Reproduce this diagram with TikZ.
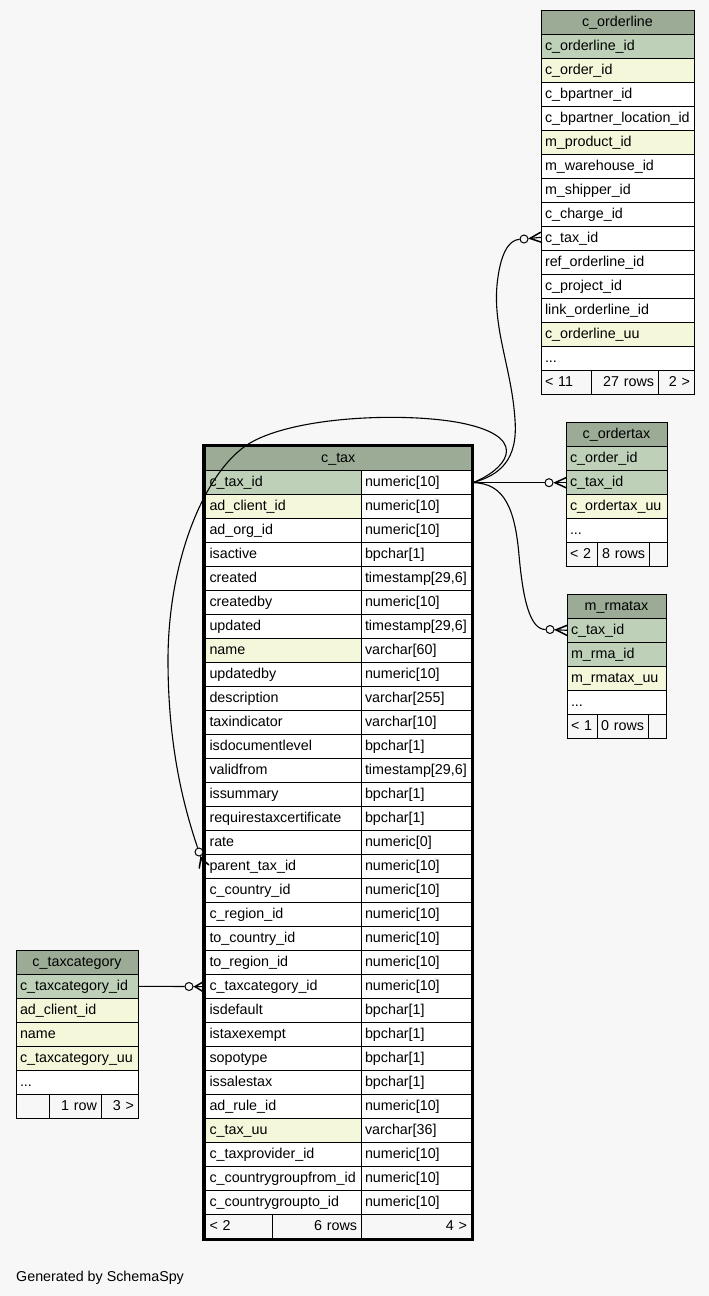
\documentclass[tikz,border=0pt]{standalone}
\usepackage{fontspec}
\setmainfont{Liberation Sans}
\usetikzlibrary{calc}
\definecolor{bgc}{HTML}{F7F7F7}
\definecolor{hdrc}{HTML}{9BAB96}
\definecolor{pkc}{HTML}{BED1B8}
\definecolor{idxc}{HTML}{F4F7DA}
\newcommand\tabfont{\fontsize{14.3}{16}\selectfont}
\newcommand\tdots{...}
\newcommand\tcell[7]{\node[cellbox,fill=#5,minimum width=#4pt,text width=#4pt-8pt,#6] (#1) at (#2,#3) {#7};}
\newcommand\crowlink[2]{%
  \draw[link] (#1) -- (#2);
  \draw[crowline] ($(#1)!6pt!(#2)$) -- ($(#2)!5pt!90:(#1)$);
  \draw[crowline] ($(#1)!6pt!(#2)$) -- ($(#2)!5pt!-90:(#1)$);}
\begin{document}
\begin{tikzpicture}[x=1pt,y=-1pt,
  cellbox/.style={draw=black, line width=1pt, anchor=north west, minimum height=24pt,
    inner xsep=4pt, inner ysep=0pt, outer sep=0pt, text height=10pt, text depth=2.5pt,
    font=\tabfont, align=left},
  odot/.style={circle, draw=black, line width=1pt, fill=bgc, minimum size=8pt, inner sep=0pt},
  link/.style={line width=1.1pt, black},
  crowline/.style={line width=1.5pt, black, line cap=round}]
\fill[bgc] (0,0) rectangle (709,1296);
\useasboundingbox (0,0) rectangle (709,1296);

% ---------- c_orderline ----------
\tcell{olh}{541}{10.3}{153}{hdrc}{align=center}{c\_orderline}
\foreach \fa/\fc [count=\k from 0] in {c\_orderline\_id/pkc, c\_order\_id/idxc, c\_bpartner\_id/white,
  c\_bpartner\_location\_id/white, m\_product\_id/idxc, m\_warehouse\_id/white, m\_shipper\_id/white,
  c\_charge\_id/white, c\_tax\_id/white, ref\_orderline\_id/white, c\_project\_id/white,
  link\_orderline\_id/white, c\_orderline\_uu/idxc, \tdots/white}{
  \pgfmathsetmacro\yy{34.3+24*\k}
  \tcell{ol\k}{541}{\yy}{153}{\fc}{}{\fa}
}
\tcell{olf1}{541}{370.3}{50}{bgc}{}{< 11}
\tcell{olf2}{591}{370.3}{67}{bgc}{align=right}{27 rows}
\tcell{olf3}{658}{370.3}{36}{bgc}{align=right}{2 >}

% ---------- c_ordertax ----------
\tcell{oth}{566}{422.7}{101}{hdrc}{align=center}{c\_ordertax}
\foreach \fa/\fc [count=\k from 0] in {c\_order\_id/pkc, c\_tax\_id/pkc, c\_ordertax\_uu/idxc, \tdots/white}{
  \pgfmathsetmacro\yy{446.7+24*\k}
  \tcell{ot\k}{566}{\yy}{101}{\fc}{}{\fa}
}
\tcell{otf1}{566}{542.7}{31}{bgc}{}{< 2}
\tcell{otf2}{597}{542.7}{52}{bgc}{align=right}{8 rows}
\tcell{otf3}{649}{542.7}{18}{bgc}{}{}

% ---------- m_rmatax ----------
\tcell{rmh}{567}{594.3}{99}{hdrc}{align=center}{m\_rmatax}
\foreach \fa/\fc [count=\k from 0] in {c\_tax\_id/pkc, m\_rma\_id/pkc, m\_rmatax\_uu/idxc, \tdots/white}{
  \pgfmathsetmacro\yy{618.3+24*\k}
  \tcell{rm\k}{567}{\yy}{99}{\fc}{}{\fa}
}
\tcell{rmf1}{567}{714.3}{30}{bgc}{}{< 1}
\tcell{rmf2}{597}{714.3}{51}{bgc}{align=right}{0 rows}
\tcell{rmf3}{648}{714.3}{18}{bgc}{}{}

% ---------- c_taxcategory ----------
\tcell{tch}{16}{950.3}{122}{hdrc}{align=center}{c\_taxcategory}
\foreach \fa/\fc [count=\k from 0] in {c\_taxcategory\_id/pkc, ad\_client\_id/idxc, name/idxc,
  c\_taxcategory\_uu/idxc, \tdots/white}{
  \pgfmathsetmacro\yy{974.3+24*\k}
  \tcell{tc\k}{16}{\yy}{122}{\fc}{}{\fa}
}
\tcell{tcf1}{16}{1094.3}{33}{bgc}{}{}
\tcell{tcf2}{49}{1094.3}{52}{bgc}{align=right}{1 row}
\tcell{tcf3}{101}{1094.3}{37}{bgc}{align=right}{3 >}

% ---------- c_tax ----------
\tcell{txh}{205.5}{446.7}{265.5}{hdrc}{align=center}{c\_tax}
\foreach \fa/\fb/\fc [count=\k from 0] in {c\_tax\_id/numeric[10]/pkc, ad\_client\_id/numeric[10]/idxc,
  ad\_org\_id/numeric[10]/white, isactive/bpchar[1]/white, created/{timestamp[29,6]}/white,
  createdby/numeric[10]/white, updated/{timestamp[29,6]}/white, name/varchar[60]/idxc,
  updatedby/numeric[10]/white, description/varchar[255]/white, taxindicator/varchar[10]/white,
  isdocumentlevel/bpchar[1]/white, validfrom/{timestamp[29,6]}/white, issummary/bpchar[1]/white,
  requirestaxcertificate/bpchar[1]/white, rate/numeric[0]/white, parent\_tax\_id/numeric[10]/white,
  c\_country\_id/numeric[10]/white, c\_region\_id/numeric[10]/white, to\_country\_id/numeric[10]/white,
  to\_region\_id/numeric[10]/white, c\_taxcategory\_id/numeric[10]/white, isdefault/bpchar[1]/white,
  istaxexempt/bpchar[1]/white, sopotype/bpchar[1]/white, issalestax/bpchar[1]/white,
  ad\_rule\_id/numeric[10]/white, c\_tax\_uu/varchar[36]/idxc, c\_taxprovider\_id/numeric[10]/white,
  c\_countrygroupfrom\_id/numeric[10]/white, c\_countrygroupto\_id/numeric[10]/white}{
  \pgfmathsetmacro\yy{470.7+24*\k}
  \tcell{tl\k}{205.5}{\yy}{155.5}{\fc}{}{\fa}
  \tcell{tr\k}{361}{\yy}{110}{white}{}{\fb}
}
\tcell{txf1}{205.5}{1214.7}{66.5}{bgc}{}{< 2}
\tcell{txf2}{272}{1214.7}{89}{bgc}{align=right}{6 rows}
\tcell{txf3}{361}{1214.7}{110}{bgc}{align=right}{4 >}
\draw[line width=3pt] (203.8,445.3) rectangle (472.7,1239.2);

% ---------- connectors ----------
\coordinate (txs) at ($(tr0.east)+(1.7,0)$);
\node[odot] (oTC) at (189,986.5) {};
\node[odot] (oOT) at (549,482.7) {};
\node[odot] (oRM) at (550,629.5) {};
\node[odot] (oOL) at (524,239) {};
\node[odot] (oPT) at (199,852) {};
\coordinate (eTC) at ($(tl21.west)+(-2.2,0)$);
\coordinate (eOT) at (ot1.west);
\coordinate (eRM) at (rm0.west);
\coordinate (eOL) at ($(ol8.west)+(0,-1)$);
\coordinate (ePT) at (204,866.5);

\draw[link] (tc0.east) -- (oTC);
\crowlink{oTC}{eTC}

\draw[link] (txs) -- (oOT);
\crowlink{oOT}{eOT}

\draw[link] (txs) .. controls (505,482.7) and (515,510) .. (519,555)
  .. controls (523,600) and (530,629.5) .. (oRM);
\crowlink{oRM}{eRM}

\draw[link] (txs) .. controls (500,475) and (518,460) .. (515,420)
  .. controls (512,370) and (493,330) .. (497,285)
  .. controls (500,255) and (508,240) .. (oOL);
\crowlink{oOL}{eOL}

\draw[link] (txs) .. controls (505,470) and (530,440) .. (470,425)
  .. controls (420,412) and (300,414) .. (250,443)
  .. controls (205,470) and (168,560) .. (168,660)
  .. controls (168,750) and (185,810) .. (oPT);
\crowlink{oPT}{ePT}

\node[anchor=base west, font=\tabfont, inner sep=0pt] (gen) at (16,1281) {Generated by SchemaSpy};
\end{tikzpicture}
\end{document}
